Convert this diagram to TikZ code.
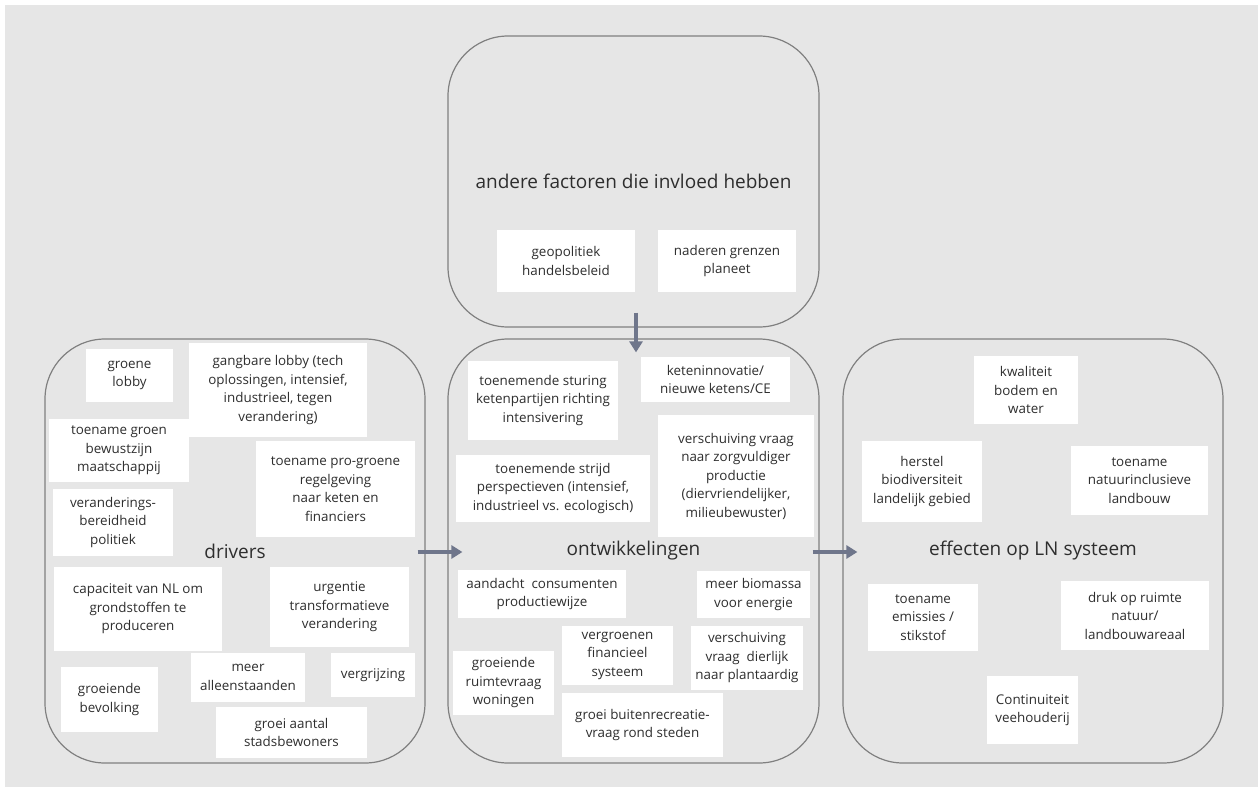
\documentclass[tikz,border=0pt]{standalone}
\usepackage{fontspec}
\setmainfont{Open Sans}
\usetikzlibrary{arrows.meta}
\definecolor{canvas}{HTML}{E6E6E6}
\definecolor{frame}{HTML}{808080}
\definecolor{flowc}{HTML}{6F768B}
\definecolor{ink}{HTML}{2E2E2E}
\tikzset{
  group/.style={draw=frame, line width=1.2pt, rounded corners=60pt, fill=none,
    text=ink, font=\fontsize{19}{23}\selectfont, inner sep=0pt},
  card/.style={fill=white, draw=none, text=ink, align=center, inner sep=2pt,
    font=\fontsize{13.4}{18.5}\selectfont},
  flow/.style={draw=flowc, line width=3.6pt, -{Triangle[length=11pt,width=13pt]}},
}
\newcommand{\cardat}[6]{% name, cx, cy, w, h, text
  \node[card, minimum width=#4pt, minimum height=#5pt] (#1) at (#2,#3) {#6};}
\begin{document}
\begin{tikzpicture}[x=1pt,y=-1pt]
\useasboundingbox (0,0) rectangle (1258,787);
\fill[white] (0,0) rectangle (1258,787);
\fill[canvas] (5,5) rectangle (1258,787);

% the four groups, each titled in its centre
\node[group, minimum width=371pt, minimum height=291pt] (top) at (633.5,181.5) {andere factoren die invloed hebben};
\node[group, minimum width=380pt, minimum height=424pt] (drv) at (235,551) {drivers};
\node[group, minimum width=371pt, minimum height=424pt] (ontw) at (633.5,551) {ontwikkelingen};
\node[group, minimum width=380pt, minimum height=424pt] (eff) at (1033,551) {effecten op LN systeem};

% other factors
\cardat{geo}{566}{261}{138}{62}{geopolitiek\\handelsbeleid}
\cardat{grens}{727}{261}{138}{62}{naderen grenzen\\planeet}

% drivers
\cardat{glob}{129.5}{375.5}{87}{53}{groene\\lobby}
\cardat{gang}{278}{390}{178}{94}{gangbare lobby (tech\\oplossingen, intensief,\\industrieel, tegen\\verandering)}
\cardat{bew}{119}{450.5}{140}{63}{toename groen\\bewustzijn\\maatschappij}
\cardat{regel}{335.5}{489}{159}{96}{toename pro-groene\\regelgeving\\naar keten en\\financiers}
\cardat{pol}{113}{522.5}{120}{67}{veranderings-\\bereidheid\\politiek}
\cardat{cap}{138}{609}{168}{84}{capaciteit van NL om\\grondstoffen te\\produceren}
\cardat{urg}{339.5}{607}{139}{80}{urgentie\\transformatieve\\verandering}
\cardat{alleen}{248}{677.5}{114}{49}{meer\\alleenstaanden}
\cardat{grijs}{373}{675}{84}{44}{vergrijzing}
\cardat{bevolk}{109.5}{699.5}{97}{65}{groeiende\\bevolking}
\cardat{stad}{291.5}{732.5}{151}{51}{groei aantal\\stadsbewoners}

% developments
\cardat{stur}{543}{400.5}{150}{79}{toenemende sturing\\ketenpartijen richting\\intensivering}
\cardat{keten}{715.5}{379.5}{149}{45}{keteninnovatie/\\nieuwe ketens/CE}
\cardat{strijd}{553}{488.5}{194}{67}{toenemende strijd\\perspectieven (intensief,\\industrieel vs. ecologisch)}
\cardat{zorg}{736}{476}{156}{122}{verschuiving vraag\\naar zorgvuldiger\\productie\\(diervriendelijker,\\milieubewuster)}
\cardat{aand}{542}{594}{168}{48}{aandacht\ \ consumenten\\productiewijze}
\cardat{bio}{753.5}{594.5}{113}{47}{meer biomassa\\voor energie}
\cardat{fin}{617.5}{655.5}{111}{59}{vergroenen\\financieel\\systeem}
\cardat{plant}{747}{658}{112}{64}{verschuiving\\vraag\ \ dierlijk\\naar plantaardig}
\cardat{won}{503.5}{683}{101}{64}{groeiende\\ruimtevraag\\woningen}
\cardat{recr}{642.5}{725}{161}{64}{groei buitenrecreatie-\\vraag rond steden}

% effects
\cardat{kwal}{1026}{390}{104}{68}{kwaliteit\\bodem en\\water}
\cardat{herst}{922}{481.5}{120}{81}{herstel\\biodiversiteit\\landelijk gebied}
\cardat{natinc}{1139.5}{480.5}{137}{69}{toename\\natuurinclusieve\\landbouw}
\cardat{emis}{923}{617.5}{110}{67}{toename\\emissies /\\stikstof}
\cardat{druk}{1135}{615.5}{148}{69}{druk op ruimte\\natuur/\\landbouwareaal}
\cardat{vee}{1032.5}{710}{91}{68}{Continuiteit\\veehouderij}

% flows between the groups
\draw[flow, shorten <=-15pt, shorten >=-14pt] ([xshift=2.5pt]top.south) -- ([xshift=2.5pt]ontw.north);
\draw[flow, shorten <=-8pt, shorten >=-15pt] ([yshift=-1pt]drv.east) -- ([yshift=-1pt]ontw.west);
\draw[flow, shorten <=-7pt, shorten >=-15pt] ([yshift=-1pt]ontw.east) -- ([yshift=-1pt]eff.west);
\end{tikzpicture}
\end{document}
